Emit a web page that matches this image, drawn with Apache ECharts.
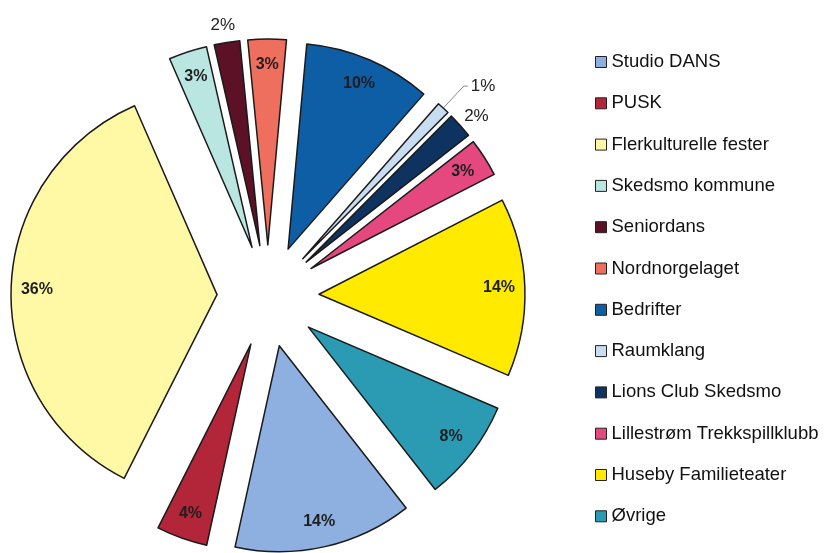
<!DOCTYPE html>
<html><head><meta charset="utf-8">
<script src="https://cdn.jsdelivr.net/npm/echarts@6/dist/echarts.min.js"></script>
<style>html,body{margin:0;padding:0;background:#fff}#c{width:830px;height:553px}</style>
</head><body><div id="c"></div>
<script>
const categories = ['Studio DANS','PUSK','Flerkulturelle fester','Skedsmo kommune','Seniordans','Nordnorgelaget','Bedrifter','Raumklang','Lions Club Skedsmo','Lillestrøm Trekkspillklubb','Huseby Familieteater','Øvrige'];
const shares = [14,4,36,3,2,3,10,1,2,3,14,8];
const outsideLabels = ['Seniordans','Raumklang','Lions Club Skedsmo'];

const palette = ['#8DB0E0','#B3263A','#FFF9A6','#B9E6E1','#5C1127','#EF6F5E','#0E5EA6','#C9DDF2','#0F3360','#E5487E','#FFEA00','#2A9BB3'];
const FONT = "'Liberation Sans', Arial, sans-serif";
const CX = 268, CY = 296, R = 206, OFF = 51;

const outsideCfg = {
  'Seniordans': {length: 12, length2: 0, line: false, dx: 13, dy: -5},
  'Raumklang': {length: 30, length2: 4, line: true, dx: 0, dy: 0},
  'Lions Club Skedsmo': {length: 8, length2: 4, line: false, dx: -9, dy: -4}
};

const mainData = categories.map((name, i) => {
  const o = outsideCfg[name];
  return {
    name, value: shares[i], selected: true,
    itemStyle: {color: palette[i]},
    label: o ? {show: true} : {show: false},
    labelLine: o ? {show: o.line, length: o.length, length2: o.length2} : {show: false}
  };
});
const labelData = categories.map((name, i) => ({
  name, value: shares[i], selected: true,
  label: {show: outsideLabels.indexOf(name) < 0}
}));

const chart = echarts.init(document.getElementById('c'), null, {renderer: 'canvas'});
chart.setOption({
  animation: false,
  backgroundColor: '#fff',
  legend: {
    orient: 'vertical', left: 590, top: 47,
    itemWidth: 11, itemHeight: 11, itemGap: 21.3,
    icon: 'rect', selectedMode: false,
    itemStyle: {borderColor: '#222', borderWidth: 1},
    textStyle: {fontFamily: FONT, fontSize: 18.5, color: '#111', lineHeight: 20},
    data: categories
  },
  series: [{
    type: 'pie', name: 'main',
    center: [CX, CY], radius: R,
    startAngle: 90 - 142, clockwise: true,
    selectedMode: 'multiple', selectedOffset: OFF,
    avoidLabelOverlap: false, minShowLabelAngle: 0,
    itemStyle: {borderColor: '#1a1a1a', borderWidth: 1.5},
    label: {position: 'outside', formatter: '{c}%', fontFamily: FONT, fontSize: 17, color: '#222', distanceToLabelLine: 3},
    labelLine: {lineStyle: {color: '#888', width: 1}},
    labelLayout: function (p) {
      const o = outsideCfg[categories[p.dataIndex]];
      return o && (o.dx || o.dy) ? {dx: o.dx, dy: o.dy} : {};
    },
    emphasis: {disabled: true},
    data: mainData
  }, {
    type: 'pie', name: 'labels', silent: true,
    center: [CX, CY], radius: [R * 0.72, R],
    startAngle: 90 - 142, clockwise: true,
    selectedMode: 'multiple', selectedOffset: OFF,
    avoidLabelOverlap: false, minShowLabelAngle: 0,
    itemStyle: {color: 'rgba(0,0,0,0)', borderWidth: 0},
    label: {position: 'inside', formatter: '{c}%', fontFamily: FONT, fontSize: 16, fontWeight: 'bold', color: '#1e1e1e'},
    labelLine: {show: false},
    emphasis: {disabled: true},
    data: labelData
  }]
});
</script></body></html>
